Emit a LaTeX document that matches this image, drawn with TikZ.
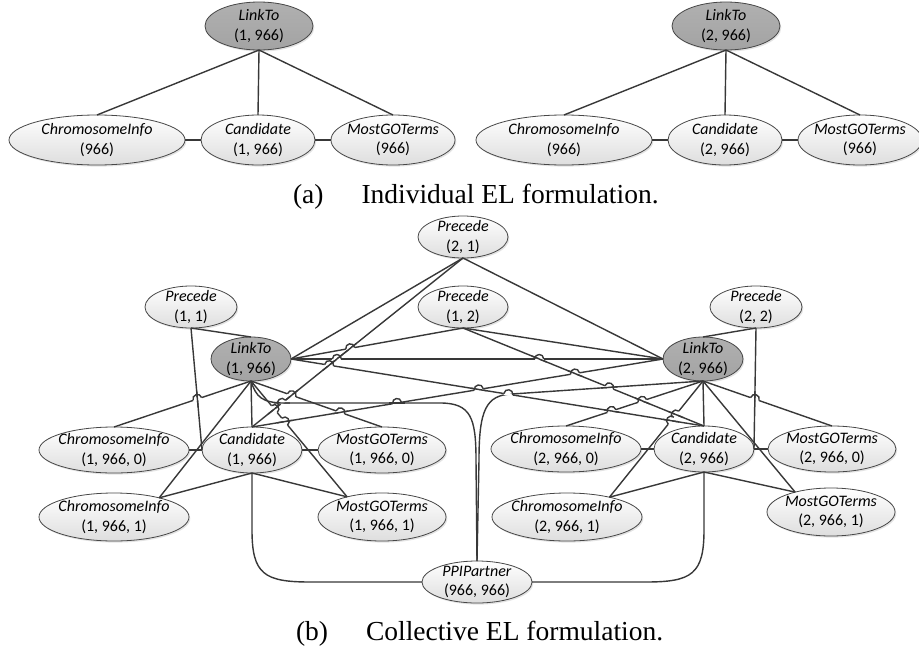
\documentclass[tikz,border=0pt]{standalone}
\usepackage{fontspec}
\setmainfont{Liberation Serif}
\newfontfamily\atomfont{Carlito}
\usetikzlibrary{shapes.geometric,shadows,calc,intersections}

\begin{document}
\begin{tikzpicture}[x=1pt,y=-1pt,
  every node/.style={inner sep=0pt, outer sep=0pt},
  atom/.style={ellipse, draw=black!72, line width=0.8pt,
    top color=white, bottom color=black!13,
    drop shadow={shadow xshift=1.3pt, shadow yshift=-1.6pt, opacity=0.22}},
  query/.style={top color=black!31, bottom color=black!36},
  sz/.style 2 args={minimum width=#1pt, minimum height=#2pt},
  lbl/.style={align=center, font=\atomfont\fontsize{16}{19.5}\selectfont},
  link/.style={draw=black!78, line width=1.4pt},
  caption/.style={font=\fontsize{27.5}{30}\selectfont, anchor=base west}
]
\path[use as bounding box, fill=white] (0,0) rectangle (919,648);

% ---------------- (a) individual formulation ----------------
\foreach \c/\dx in {1/0, 2/467} {
  \begin{scope}[xshift=\dx]
    \node[atom, query, sz={108}{48}, label={[lbl]center:{\textit{LinkTo}\\(\c, 966)}}] (aL\c) at (259,26) {};
    \node[atom, sz={176}{50}, label={[lbl]center:{\textit{ChromosomeInfo}\\(966)}}] (aX\c) at (97,140) {};
    \node[atom, sz={114}{50}, label={[lbl]center:{\textit{Candidate}\\(\c, 966)}}] (aD\c) at (258,140) {};
    \node[atom, sz={124}{50}, label={[lbl]center:{\textit{MostGOTerms}\\(966)}}] (aM\c) at (393,140) {};
  \end{scope}
  \draw[link] (aL\c.south) -- (aX\c.north);
  \draw[link] (aL\c.south) -- (aD\c.north);
  \draw[link] (aL\c.south) -- (aM\c.north);
  \draw[link] (aX\c.east) -- (aD\c.west);
  \draw[link] (aD\c.east) -- (aM\c.west);
}
\node[caption] (capa) at (293,203) {(a)\hspace{38pt}Individual EL formulation.};

% ---------------- (b) collective formulation ----------------
\node[atom, sz={90}{42}, label={[lbl]center:{\textit{Precede}\\(2, 1)}}] (P21) at (463,237) {};
\node[atom, sz={92}{42}, label={[lbl]center:{\textit{Precede}\\(1, 1)}}] (P11) at (191,307) {};
\node[atom, sz={90}{42}, label={[lbl]center:{\textit{Precede}\\(1, 2)}}] (P12) at (463,307) {};
\node[atom, sz={92}{42}, label={[lbl]center:{\textit{Precede}\\(2, 2)}}] (P22) at (756,307) {};

\node[atom, query, sz={80}{44}, label={[lbl]center:{\textit{LinkTo}\\(1, 966)}}] (L1) at (251,359) {};
\node[atom, query, sz={80}{44}, label={[lbl]center:{\textit{LinkTo}\\(2, 966)}}] (L2) at (703,359) {};

\node[atom, sz={150}{46}, label={[lbl]center:{\textit{ChromosomeInfo}\\(1, 966, 0)}}] (X10) at (114,450) {};
\node[atom, sz={100}{46}, label={[lbl]center:{\textit{Candidate}\\(1, 966)}}] (D1) at (252,450) {};
\node[atom, sz={128}{46}, label={[lbl]center:{\textit{MostGOTerms}\\(1, 966, 0)}}] (M10) at (382,450) {};
\node[atom, sz={150}{48}, label={[lbl]center:{\textit{ChromosomeInfo}\\(1, 966, 1)}}] (X11) at (114,517) {};
\node[atom, sz={128}{48}, label={[lbl]center:{\textit{MostGOTerms}\\(1, 966, 1)}}] (M11) at (382,517) {};

\node[atom, sz={150}{46}, label={[lbl]center:{\textit{ChromosomeInfo}\\(2, 966, 0)}}] (X20) at (566,449) {};
\node[atom, sz={100}{46}, label={[lbl]center:{\textit{Candidate}\\(2, 966)}}] (D2) at (704,449) {};
\node[atom, sz={128}{46}, label={[lbl]center:{\textit{MostGOTerms}\\(2, 966, 0)}}] (M20) at (832,449) {};
\node[atom, sz={150}{48}, label={[lbl]center:{\textit{ChromosomeInfo}\\(2, 966, 1)}}] (X21) at (567,517) {};
\node[atom, sz={128}{48}, label={[lbl]center:{\textit{MostGOTerms}\\(2, 966, 1)}}] (M21) at (831,512) {};

\node[atom, sz={110}{42}, label={[lbl]center:{\textit{PPIPartner}\\(966, 966)}}] (PPI) at (477,582) {};

% candidate -> interaction partner (these never jump)
\draw[link] (D1.south) -- (252,530) .. controls (252,574) and (264,582) .. (310,582) -- (PPI.west);
\draw[link] (D2.south) -- (704,530) .. controls (704,574) and (692,582) .. (646,582) -- (PPI.east);

% link -> interaction partner; s/t = ends, u/v = local direction
\draw[link, name path global=e1] (L1.south) .. controls (256,397) and (262,403) .. (285,403)
  -- (440,403) .. controls (471,403) and (476,418) .. (476,460) -- (PPI.north);
\coordinate (s1) at (L1.south); \coordinate (t1) at (PPI.north);
\coordinate (u1) at (240,403);  \coordinate (v1) at (460,403);
\draw[link, name path global=e2] (L2.south) -- (512,394) .. controls (486,395) and (479,410) .. (479,460) -- (PPI.north);
\coordinate (s2) at (L2.south); \coordinate (t2) at (PPI.north);
\coordinate (u2) at (L2.south); \coordinate (v2) at (512,394);

% straight connectors, in drawing order (later ones jump over earlier ones)
\foreach \a/\b [count=\k from 3] in {
    P11.south/L1.north, P11.south/D1.west,
    P21.south/D1.north, P21.south/L1.east, P21.south/L2.west,
    P12.south/L1.east, P12.south/L2.west, P12.south/D2.north,
    P22.south/L2.north, P22.south/D2.east,
    L1.east/D2.north, D1.north/L2.west, L1.east/L2.west,
    L1.south/X10.north, L1.south/D1.north, L1.south/X11.23,
    L1.south/M10.north, L1.south/M11.150,
    D1.south/X11.23, D1.south/M11.150, X10.east/D1.west, D1.east/M10.west,
    L2.south/X20.north, L2.south/D2.north, L2.south/X21.25,
    L2.south/M20.north, L2.south/M21.151,
    D2.south/X21.25, D2.south/M21.151, X20.east/D2.west, D2.east/M20.west} {
  \draw[link, name path global=e\k] (\a) -- (\b);
  \coordinate (s\k) at (\a); \coordinate (t\k) at (\b);
  \coordinate (u\k) at (\a); \coordinate (v\k) at (\b);
  \xdef\nedges{\k}
}

% line jumps at crossings
\foreach \i in {3,...,\nedges} {
  \pgfmathtruncatemacro\ilast{\i-1}
  \foreach \j in {1,...,\ilast} {
    \edef\isect{name intersections={of=e\i\space and e\j, name=cx, total=\noexpand\t}}
    \expandafter\path\expandafter[\isect] \pgfextra{\xdef\ncross{\t}};
    \ifnum\ncross>0
      \path let \p1=($(cx-1)-(s\i)$), \p2=($(cx-1)-(t\i)$),
                \p3=($(cx-1)-(s\j)$), \p4=($(cx-1)-(t\j)$),
                \p5=(s\i), \p6=(t\i) in
        \pgfextra{
          \pgfmathsetmacro\dmin{min(veclen(\x1,\y1),veclen(\x2,\y2),veclen(\x3,\y3),veclen(\x4,\y4))}
          \xdef\dmin{\dmin}
          \ifdim\x5<\x6 \xdef\hopl{s\i}\xdef\hopr{t\i}\else\xdef\hopl{t\i}\xdef\hopr{s\i}\fi
        };
      \ifdim\dmin pt>7pt
        \coordinate (h1) at ($(cx-1)!4.5pt!(\hopl)$);
        \coordinate (h2) at ($(cx-1)!4.5pt!(\hopr)$);
        \draw[white, line width=2.6pt] (h1) -- (h2);
        \draw[link] ($(cx-1)!8pt!(u\j)$) -- ($(cx-1)!8pt!(v\j)$);
        \draw[link] (h1) .. controls ($(h1)!6pt!90:(h2)$) and ($(h2)!6pt!-90:(h1)$) .. (h2);
      \fi
    \fi
  }
}

\node[caption] (capb) at (296,640) {(b)\hspace{38pt}Collective EL formulation.};
\end{tikzpicture}
\end{document}
